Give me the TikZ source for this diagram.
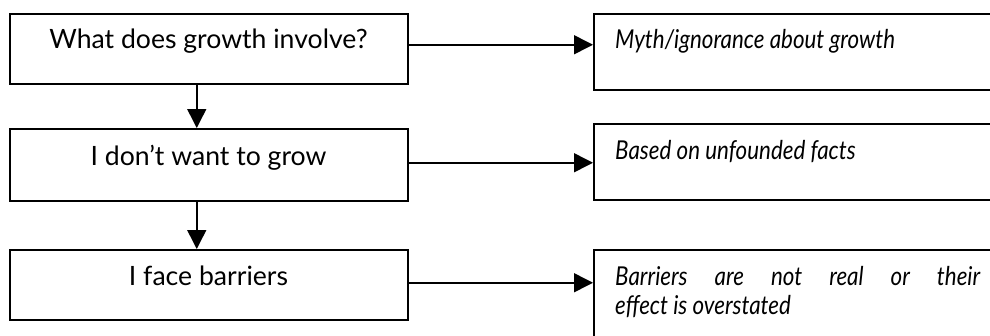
\documentclass[tikz,border=0pt]{standalone}
\usepackage{fontspec}
\setmainfont{Lato}
\newfontfamily\narrowit{Lato}[FakeStretch=0.86]
\usetikzlibrary{arrows.meta}
\begin{document}
\begin{tikzpicture}[x=1pt,y=-1pt,
  box/.style={draw=black,line width=1.5pt,rectangle,inner sep=0pt,anchor=north west},
  lbl/.style={inner sep=0pt,font=\fontsize{26.6}{30}\selectfont,anchor=base},
  ilbl/.style={inner sep=0pt,font=\narrowit\fontsize{26}{28}\selectfont\itshape,anchor=base west},
  arr/.style={line width=1.5pt,-{Triangle[length=19pt,width=19pt]}}]
\path[use as bounding box,clip] (0,0) rectangle (990,335);
% left boxes
\node[box,minimum width=398pt,minimum height=70pt] (l1) at (9,13) {};
\node[box,minimum width=398pt,minimum height=72pt] (l2) at (9,128) {};
\node[box,minimum width=398pt,minimum height=70pt] (l3) at (9,249) {};
% right boxes
\node[box,minimum width=420pt,minimum height=76pt] (r1) at (593,13) {};
\node[box,minimum width=420pt,minimum height=76pt] (r2) at (593,123) {};
\node[box,minimum width=420pt,minimum height=110pt] (r3) at (593,249) {};
% texts
\node[lbl] (t1) at (208.5,48) {What does growth involve?};
\node[lbl] (t2) at (208.5,165) {I don’t want to grow};
\node[lbl] (t3) at (208.5,285) {I face barriers};
\node[ilbl] (s1) at (615,48) {Myth/ignorance about growth};
\node[ilbl] (s2) at (615,159) {Based on unfounded facts};
\node[ilbl] (s3) at (615,285) {\vtop{\baselineskip=29pt\hbox{\makebox[365pt][s]{Barriers are not real or their}}\hbox{effect is overstated}}};
% arrows
\draw[arr] ([yshift=4pt]l1.east) -- ([yshift=4pt]l1.east -| r1.west);
\draw[arr] ([yshift=2pt]l2.east) -- ([yshift=2pt]l2.east -| r2.west);
\draw[arr] ([yshift=2pt]l3.east) -- ([yshift=2pt]l3.east -| r3.west);
\draw[arr] ([xshift=-12pt]l1.south) -- ([xshift=-12pt]l1.south |- l2.north);
\draw[arr] ([xshift=-12pt]l2.south) -- ([xshift=-12pt]l2.south |- l3.north);
\end{tikzpicture}
\end{document}
